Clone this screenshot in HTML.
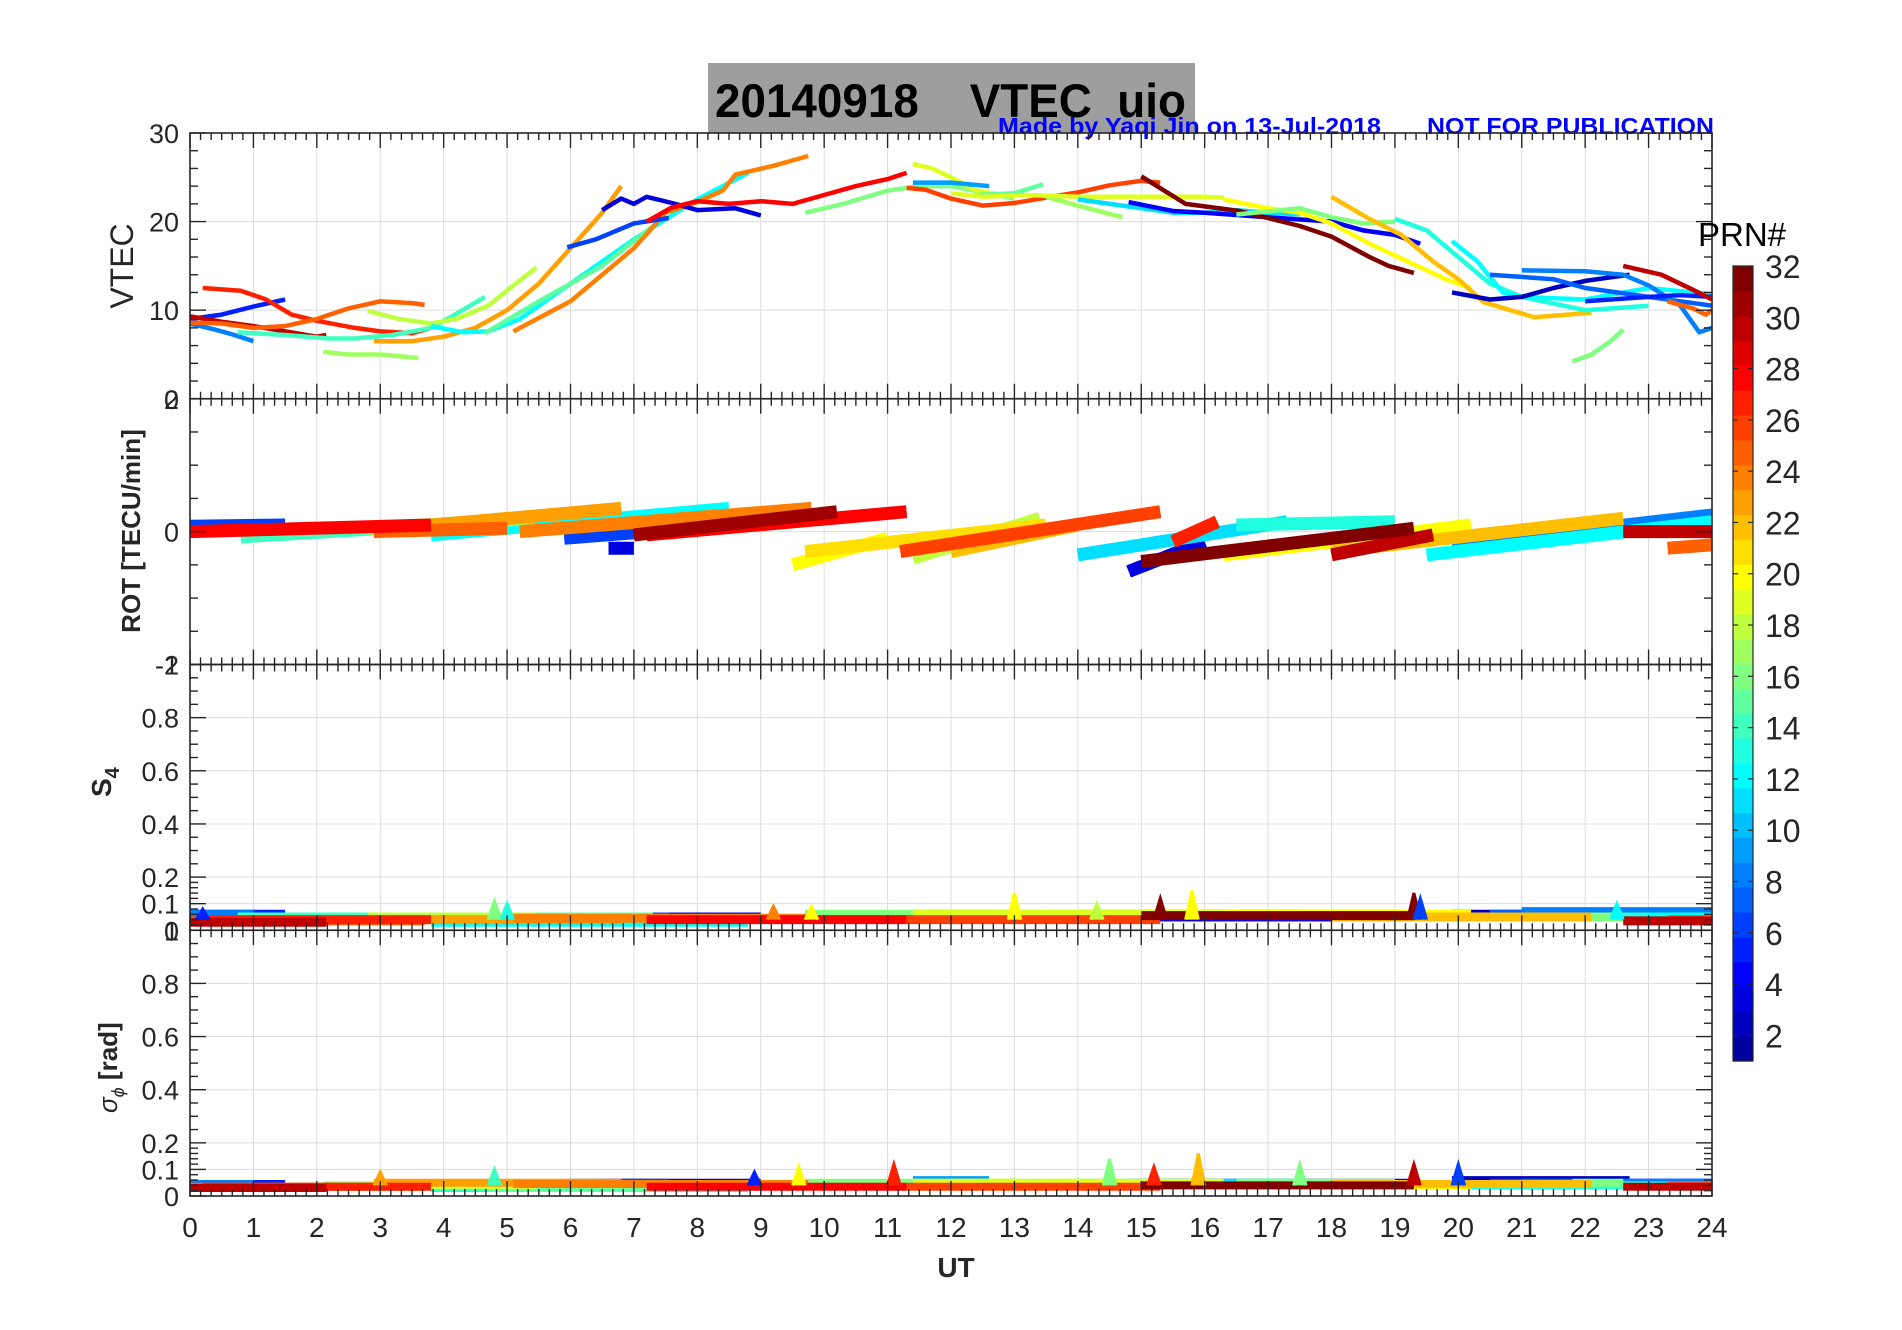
<!DOCTYPE html>
<html><head><meta charset="utf-8"><title>VTEC uio</title>
<style>
html,body{margin:0;padding:0;background:#fff;}
svg{display:block;}
text{font-family:"Liberation Sans",sans-serif;}
</style></head>
<body>
<svg id="chart" width="1902" height="1330" viewBox="0 0 1902 1330" xmlns="http://www.w3.org/2000/svg">
<rect x="0" y="0" width="1902" height="1330" fill="#fff"/>
<rect x="708" y="63" width="487" height="70" fill="#9e9e9e"/>
<text x="715" y="117" font-size="47" font-weight="bold" fill="#000" textLength="471" lengthAdjust="spacingAndGlyphs" xml:space="preserve">20140918    VTEC  uio</text>
<text x="998" y="134" font-size="23" font-weight="bold" fill="#0000ff" textLength="383" lengthAdjust="spacingAndGlyphs">Made by Yaqi Jin on 13-Jul-2018</text>
<text x="1427" y="134" font-size="23" font-weight="bold" fill="#0000ff" textLength="287" lengthAdjust="spacingAndGlyphs">NOT FOR PUBLICATION</text>
<g id="layer"></g>
</svg>
<script>
// ---------- data ----------
const hourTicks = [0,1,2,3,4,5,6,7,8,9,10,11,12,13,14,15,16,17,18,19,20,21,22,23,24];
const vtecTicks = [0,10,20,30];
const rotTicks = [-2,0,2];
const scintTicks = [0,0.1,0.2,0.4,0.6,0.8,1];
const cbarTicks = [2,4,6,8,10,12,14,16,18,20,22,24,26,28,30,32];

const vtecPrn = [8,5,27,30,25,14,17,23,18,12,15,24,6,3,28,16,19,9,26,15,17,19,11,4,32,20,16,22,13,12,2,7,8,5,30,25,16];
const vtecPts = [
 [[0,8.5],[0.4,7.8],[0.7,7.2],[1.0,6.5]],
 [[0,9],[0.5,9.5],[1.0,10.4],[1.5,11.2]],
 [[0.2,12.5],[0.8,12.2],[1.2,11.2],[1.6,9.5],[2.0,8.8],[2.6,8.0],[3.0,7.6],[3.5,7.4],[3.8,8.0]],
 [[0,9.3],[0.5,8.7],[1,8.2],[1.5,7.6],[2,7.0],[2.15,7.2]],
 [[0,8.6],[0.5,8.5],[1,8.0],[1.5,8.2],[2,9.0],[2.5,10.2],[3,11.0],[3.5,10.8],[3.7,10.6]],
 [[0.75,7.5],[1.5,7.2],[2.2,6.8],[2.6,6.8],[3.2,7.2],[3.8,8.0],[4.2,9.6],[4.65,11.5]],
 [[2.1,5.3],[2.5,5.0],[3,5.0],[3.6,4.6]],
 [[2.9,6.5],[3.5,6.5],[4,7.0],[4.5,8.0],[5,10],[5.5,13],[6,17],[6.5,21],[6.8,24]],
 [[2.8,9.9],[3.3,9.0],[3.8,8.5],[4.2,9.0],[4.7,10.5],[5.1,12.8],[5.46,14.8]],
 [[3.8,8.2],[4.3,7.5],[4.7,7.6],[5.2,9.0],[6,13],[7,18],[8,22.5],[8.8,25.5]],
 [[4.65,7.4],[5.5,11],[6.5,15],[7.3,19.5]],
 [[5.1,7.6],[6,11],[7,17],[7.5,21.0],[8,22.2],[8.4,23.5],[8.6,25.3],[9.2,26.3],[9.75,27.4]],
 [[5.95,17.1],[6.4,18],[7,19.8],[7.55,20.4]],
 [[6.5,21.3],[6.8,22.6],[7.0,22.0],[7.2,22.8],[7.6,22.1],[8.0,21.3],[8.6,21.5],[9.0,20.7]],
 [[7.2,20],[7.6,21.6],[8,22.3],[8.5,22.0],[9,22.3],[9.5,22.0],[10,23],[10.5,24],[11,24.8],[11.3,25.5]],
 [[9.7,21],[10.3,22],[11,23.5],[11.5,24],[12,24],[12.5,23.3],[13.0,22.6]],
 [[11.4,26.5],[11.7,26],[12,25],[12.4,23.5],[13,22.8]],
 [[11.4,24.4],[12,24.4],[12.6,24.0]],
 [[11.3,23.8],[11.6,23.6],[12,22.6],[12.5,21.8],[13,22.1],[13.5,22.7],[14,23.3],[14.5,24.1],[15,24.6],[15.3,24.4]],
 [[12.4,23.0],[13,23.2],[13.45,24.2]],
 [[13.5,22.8],[14,21.8],[14.7,20.5]],
 [[12.0,23.2],[12.5,22.8],[13.2,23],[14,22.8],[15,22.8],[15.5,22.8],[16,22.8],[16.3,22.7]],
 [[14,22.5],[14.7,21.8],[15.5,21],[16,21],[16.5,21.3],[17,21],[17.5,20.8]],
 [[14.8,22.2],[15.5,21.2],[16,21],[17,20.5],[18,20],[18.5,19],[19,18.5],[19.4,17.5]],
 [[15,25.1],[15.7,22],[16.55,21.2],[17.5,19.5],[18,18.3],[18.6,16],[18.9,15],[19.3,14.2]],
 [[16.3,22.5],[17,21.5],[17.5,21],[18,19.8],[18.6,17.5],[19.2,15.5],[19.8,13.5],[20.2,12.5]],
 [[16.5,20.8],[17.5,21.5],[18,20.5],[18.5,19.8],[19,20]],
 [[18,22.8],[18.6,20.3],[19.1,18.5],[19.6,15.5],[20.0,13.5],[20.4,10.9],[21.2,9.2],[22.1,9.7]],
 [[19,20.3],[19.5,19],[20,16],[20.5,13],[21,11.5],[22,10.0],[23,10.5]],
 [[19.9,17.8],[20.3,15.5],[20.7,12],[21,11.5],[22,11.2],[23,12.5],[24,11.8]],
 [[19.9,12],[20.5,11.2],[21,11.5],[21.5,12.5],[22,13.3],[22.7,14]],
 [[20.5,14],[21.5,13.5],[22,12.5],[22.5,12.0],[23,11.5],[23.5,11],[24,10.5]],
 [[21,14.5],[22,14.4],[22.6,14],[23,12.8],[23.5,10.5],[23.8,7.5],[24,8]],
 [[22,11],[23,11.5],[23.5,11.7],[24,11.5]],
 [[22.6,15],[23.2,14],[23.7,12.3],[24,11.2]],
 [[23.3,11],[23.7,10.2],[23.9,9.5],[24,10]],
 [[21.8,4.2],[22.1,5],[22.4,6.5],[22.6,7.8]]
];

const rotPrn   = [6,14,17,25,12,23,6,3,24,28,31,20,21,18,22,26,11,3,27,20,13,30,22,12,8,30,25,32,28];
const rotStart = [0,0.8,2.8,2.9,3.8,2.9,5.9,6.6,5.2,0,7,9.5,9.7,11.4,12.0,11.2,14,14.8,15.5,16.3,16.5,18,18,19.5,19.9,22.6,23.3,15,7.2];
const rotEnd   = [1.5,4.8,5.4,5,8.5,6.8,7.5,7.0,9.8,3.8,10.2,11,13.5,13.4,14,15.3,17.3,16,16.2,20.2,19,19.6,22.6,24,24,24,24,19.3,11.3];
const rotV0    = [0.08,-0.08,0.05,0,-0.05,0.02,-0.1,-0.25,0.0,0,-0.05,-0.5,-0.3,-0.4,-0.3,-0.3,-0.35,-0.6,-0.15,-0.35,0.1,-0.35,-0.3,-0.35,-0.2,0,-0.25,-0.45,-0.05];
const rotV1    = [0.1,0.15,0.2,0.05,0.35,0.35,0.02,-0.25,0.35,0.1,0.3,-0.1,0.1,0.2,0.1,0.3,0.15,-0.15,0.15,0.1,0.15,-0.05,0.2,0.15,0.25,0,-0.2,0.05,0.3];

const s4Level    = [0.06,0.06,0.04,0.03,0.035,0.05,0.04,0.04,0.05,0.03,0.05,0.045,0.05,0.05,0.04,0.06,0.06,0.06,0.04,0.06,0.06,0.06,0.06,0.05,0.055,0.06,0.06,0.05,0.05,0.05,0.06,0.06,0.07,0.06,0.035,0.04,0.05];
const sigmaLevel = [0.045,0.045,0.035,0.03,0.035,0.035,0.04,0.05,0.04,0.03,0.03,0.045,0.05,0.05,0.035,0.05,0.05,0.06,0.035,0.05,0.05,0.05,0.05,0.05,0.04,0.04,0.05,0.045,0.04,0.04,0.06,0.05,0.05,0.05,0.035,0.04,0.05];

const s4PeakPrn  = [16,13,24,20,20,18,32,20,32,6,12,5];
const s4PeakHour = [4.8,5.0,9.2,9.8,13.0,14.3,15.3,15.8,19.3,19.4,22.5,0.2];
const s4PeakVal  = [0.11,0.1,0.09,0.09,0.14,0.1,0.12,0.15,0.14,0.12,0.1,0.08];
const sgPeakPrn  = [14,23,20,27,16,27,22,16,30,6,5];
const sgPeakHour = [4.8,3.0,9.6,11.1,14.5,15.2,15.9,17.5,19.3,20.0,8.9];
const sgPeakVal  = [0.1,0.09,0.11,0.12,0.14,0.11,0.16,0.12,0.12,0.12,0.09];

// ---------- layout ----------
const X0=190, X1=1712, PT=133, PH=265.75;
const NS='http://www.w3.org/2000/svg';
const layer=document.getElementById('layer');
function xs(h){return X0+(X1-X0)*h/24;}
function panelTop(i){return PT+i*PH;}
function ys(i,v,lo,hi){return panelTop(i)+PH-(v-lo)/(hi-lo)*PH;}
function mk(tag,attrs,parent){const e=document.createElementNS(NS,tag);for(const k in attrs)e.setAttribute(k,attrs[k]);(parent||layer).appendChild(e);return e;}

function jet(m){
  const n=Math.ceil(m/4);const u=[];
  for(let i=1;i<=n;i++)u.push(i/n);
  for(let i=1;i<n;i++)u.push(1);
  for(let i=n;i>=1;i--)u.push(i/n);
  const g0=Math.ceil(n/2)-(m%4===1?1:0);
  const map=[];for(let i=0;i<m;i++)map.push([0,0,0]);
  for(let j=0;j<u.length;j++){
    const g=g0+j+1,r=g+n,b=g-n;
    if(r>=1&&r<=m)map[r-1][0]=u[j];
    if(g>=1&&g<=m)map[g-1][1]=u[j];
    if(b>=1&&b<=m)map[b-1][2]=u[j];
  }
  return map.map(c=>'rgb('+c.map(v=>Math.round(v*255)).join(',')+')');
}
const cmap=jet(32);
function col(p){return cmap[Math.max(1,Math.min(32,p))-1];}

const panels=[
 {lo:0,hi:30,ticks:vtecTicks,minor:[2,4,6,8,12,14,16,18,22,24,26,28],name:'vtec'},
 {lo:-2,hi:2,ticks:rotTicks,minor:[-1.5,-1,-0.5,0.5,1,1.5],name:'rot'},
 {lo:0,hi:1,ticks:scintTicks,minor:[0.02,0.04,0.06,0.08,0.12,0.14,0.16,0.18,0.25,0.3,0.35,0.45,0.5,0.55,0.65,0.7,0.75,0.85,0.9,0.95],name:'s4'},
 {lo:0,hi:1,ticks:scintTicks,minor:[0.02,0.04,0.06,0.08,0.12,0.14,0.16,0.18,0.25,0.3,0.35,0.45,0.5,0.55,0.65,0.7,0.75,0.85,0.9,0.95],name:'sigma-phi'}
];

panels.forEach((p,i)=>{
  const g=mk('g',{});
  
  
  const t=panelTop(i),b=t+PH;
  hourTicks.forEach(h=>{mk('line',{x1:xs(h),x2:xs(h),y1:t,y2:b,stroke:'#dcdcdc','stroke-width':1},g);});
  p.ticks.forEach(v=>{const y=ys(i,v,p.lo,p.hi);mk('line',{x1:X0,x2:X1,y1:y,y2:y,stroke:'#dcdcdc','stroke-width':1},g);});
});

const defs=mk('defs',{});
panels.forEach((p,i)=>{
  const cp=mk('clipPath',{id:'clip'+i},defs);
  mk('rect',{x:X0,y:panelTop(i),width:X1-X0,height:PH},cp);
});

function pathFrom(pts,i,p){return pts.map((q,k)=>(k?'L':'M')+xs(q[0]).toFixed(1)+','+ys(i,q[1],p.lo,p.hi).toFixed(1)).join(' ');}

const gv=mk('g',{'clip-path':'url(#clip0)'});


vtecPts.forEach((pts,k)=>{
  const e=mk('path',{d:pathFrom(pts,0,panels[0]),fill:'none',stroke:col(vtecPrn[k]),'stroke-width':4.5,'stroke-linejoin':'round'},gv);
  
  
});

const gr=mk('g',{'clip-path':'url(#clip1)'});


const rotOrder=rotPrn.map((p,k)=>k).sort((a,b)=>rotPrn[a]-rotPrn[b]);
rotOrder.forEach(k=>{
  const pts=[[rotStart[k],rotV0[k]],[rotEnd[k],rotV1[k]]];
  const e=mk('path',{d:pathFrom(pts,1,panels[1]),fill:'none',stroke:col(rotPrn[k]),'stroke-width':13},gr);
  
  
});

function scint(i,levels,pPrn,pHour,pVal,sw,nm){
  const g=mk('g',{'clip-path':'url(#clip'+i+')'});
  
  
  const order=vtecPrn.map((p,k)=>k).sort((a,b)=>vtecPrn[a]-vtecPrn[b]);
  order.forEach(k=>{
    const pts=vtecPts[k];const h0=pts[0][0],h1=pts[pts.length-1][0];
    const e=mk('path',{d:pathFrom([[h0,levels[k]],[h1,levels[k]]],i,panels[i]),fill:'none',stroke:col(vtecPrn[k]),'stroke-width':sw},g);
    
    
  });
  pPrn.forEach((p,k)=>{
    const pts=[[pHour[k]-0.1,0.04],[pHour[k],pVal[k]],[pHour[k]+0.1,0.04]];
    const e=mk('path',{d:pathFrom(pts,i,panels[i]),fill:col(p),stroke:col(p),'stroke-width':3},g);
    
    
  });
}
scint(2,s4Level,s4PeakPrn,s4PeakHour,s4PeakVal,9,'s4');
scint(3,sigmaLevel,sgPeakPrn,sgPeakHour,sgPeakVal,8,'sigma-phi');

const AX='#262626';
panels.forEach((p,i)=>{
  const g=mk('g',{});
  
  
  const t=panelTop(i),b=t+PH;
  mk('rect',{x:X0,y:t,width:X1-X0,height:PH,fill:'none',stroke:AX,'stroke-width':1.6},g);
  for(let m=0;m<=24*6;m++){
    const h=m/6,x=xs(h),L=(m%6===0)?15:7;
    mk('line',{x1:x,x2:x,y1:t,y2:t+L,stroke:AX,'stroke-width':1.4},g);
    mk('line',{x1:x,x2:x,y1:b,y2:b-L,stroke:AX,'stroke-width':1.4},g);
  }
  p.ticks.forEach(v=>{
    const y=ys(i,v,p.lo,p.hi);
    mk('line',{x1:X0,x2:X0+16,y1:y,y2:y,stroke:AX,'stroke-width':1.4},g);
    mk('line',{x1:X1,x2:X1-16,y1:y,y2:y,stroke:AX,'stroke-width':1.4},g);
    const tx=mk('text',{x:179,y:y+10,'font-size':27,fill:AX,'text-anchor':'end'},g);
    tx.textContent=String(v);
    
    
  });
  p.minor.forEach(v=>{
    const y=ys(i,v,p.lo,p.hi);
    mk('line',{x1:X0,x2:X0+8,y1:y,y2:y,stroke:AX,'stroke-width':1.4},g);
    mk('line',{x1:X1,x2:X1-8,y1:y,y2:y,stroke:AX,'stroke-width':1.4},g);
  });
});

hourTicks.forEach(h=>{
  const t=mk('text',{x:xs(h),y:1237,'font-size':28,fill:AX,'text-anchor':'middle'});
  t.textContent=String(h);
  
  
});

const cb=mk('g',{});


const CT=266,CB=1061,CX=1733,CW=20;
for(let p=1;p<=32;p++){
  const y0=CB-(p)*(CB-CT)/32;
  mk('rect',{x:CX,y:y0,width:CW,height:(CB-CT)/32+0.6,fill:col(p)},cb);
}
mk('rect',{x:CX,y:CT,width:CW,height:CB-CT,fill:'none',stroke:AX,'stroke-width':1.2},cb);
cbarTicks.forEach(v=>{
  const y=CB-(v-1)/31*(CB-CT);
  mk('line',{x1:CX,x2:CX+5,y1:y,y2:y,stroke:AX,'stroke-width':1.2},cb);
  mk('line',{x1:CX+CW,x2:CX+CW-5,y1:y,y2:y,stroke:AX,'stroke-width':1.2},cb);
  const t=mk('text',{x:1765,y:y+12,'font-size':32,fill:AX},cb);
  t.textContent=String(v);
  
  
});
</script>
<div style="position:absolute;left:0;top:0;width:1902px;height:1330px;pointer-events:none">
<svg width="1902" height="1330" style="position:absolute;left:0;top:0">
<text x="1698" y="246" font-size="33" fill="#000" font-family="Liberation Sans, sans-serif">PRN#</text>
<text transform="translate(133,266) rotate(-90)" text-anchor="middle" font-size="32" fill="#262626" font-family="Liberation Sans, sans-serif">VTEC</text>
<text transform="translate(140,531) rotate(-90)" text-anchor="middle" font-size="26" font-weight="bold" fill="#262626" font-family="Liberation Sans, sans-serif">ROT [TECU/min]</text>
<text transform="translate(111,797) rotate(-90)" text-anchor="start" font-size="28" font-weight="bold" fill="#262626" font-family="Liberation Sans, sans-serif">S<tspan font-size="20" dy="8">4</tspan></text>
<text transform="translate(117,1113) rotate(-90)" text-anchor="start" font-size="26" font-weight="bold" fill="#262626" font-family="Liberation Serif, serif"><tspan font-style="italic" font-weight="normal">σ</tspan><tspan font-size="18" dy="7" font-style="italic" font-weight="normal">ϕ</tspan><tspan dy="-7" font-family="Liberation Sans, sans-serif" xml:space="preserve"> [rad]</tspan></text>
<text x="956" y="1277" text-anchor="middle" font-size="28" font-weight="bold" fill="#262626" font-family="Liberation Sans, sans-serif">UT</text>
</svg>
</div>
</body></html>
